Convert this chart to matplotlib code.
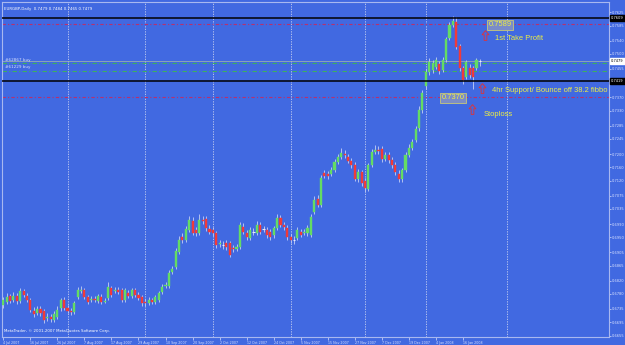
import matplotlib.pyplot as plt
import matplotlib.transforms as mtransforms
from matplotlib.path import Path

# EURGBP daily bars (4 Jul 2007 onwards)
opens = [
    0.6747, 0.6756, 0.6774, 0.6762, 0.6774, 0.6759, 0.6789, 0.6774, 0.6762, 0.6729,
    0.6723, 0.6735, 0.6729, 0.6708, 0.6711, 0.6702, 0.6711, 0.6738, 0.6762, 0.6738,
    0.6729, 0.6726, 0.6771, 0.6789, 0.6792, 0.6771, 0.6762, 0.6765, 0.6759, 0.6771,
    0.6756, 0.6768, 0.6798, 0.6789, 0.6792, 0.6792, 0.6762, 0.6783, 0.6774, 0.6792,
    0.6777, 0.6771, 0.6756, 0.6753, 0.6762, 0.6756, 0.6762, 0.6786, 0.6804, 0.6804,
    0.6846, 0.6861, 0.6906, 0.6951, 0.6942, 0.6972, 0.6999, 0.6972, 0.6963, 0.7002,
    0.7005, 0.6975, 0.6972, 0.6963, 0.6930, 0.6927, 0.6933, 0.6933, 0.6918, 0.6915,
    0.6921, 0.6981, 0.6963, 0.6948, 0.6966, 0.6963, 0.6987, 0.6975, 0.6972, 0.6966,
    0.6957, 0.6978, 0.7008, 0.6987, 0.6978, 0.6951, 0.6942, 0.6948, 0.6966, 0.6963,
    0.6963, 0.6957, 0.7026, 0.7065, 0.7047, 0.7143, 0.7140, 0.7140, 0.7152, 0.7176,
    0.7191, 0.7200, 0.7191, 0.7179, 0.7167, 0.7125, 0.7146, 0.7119, 0.7095, 0.7167,
    0.7206, 0.7212, 0.7215, 0.7185, 0.7197, 0.7182, 0.7167, 0.7140, 0.7125, 0.7152,
    0.7197, 0.7218, 0.7242, 0.7278, 0.7332, 0.7404, 0.7446, 0.7452, 0.7461, 0.7470,
    0.7452, 0.7482, 0.7548, 0.7587, 0.7596, 0.7524, 0.7458, 0.7431, 0.7458, 0.7458,
    0.7458, 0.7479]
highs = [
    0.6771, 0.6783, 0.6780, 0.6786, 0.6783, 0.6798, 0.6795, 0.6783, 0.6768, 0.6741,
    0.6744, 0.6744, 0.6735, 0.6723, 0.6720, 0.6729, 0.6744, 0.6768, 0.6771, 0.6747,
    0.6738, 0.6759, 0.6801, 0.6804, 0.6798, 0.6777, 0.6774, 0.6774, 0.6780, 0.6780,
    0.6768, 0.6816, 0.6804, 0.6801, 0.6801, 0.6798, 0.6798, 0.6792, 0.6798, 0.6798,
    0.6786, 0.6777, 0.6765, 0.6771, 0.6768, 0.6777, 0.6789, 0.6810, 0.6816, 0.6852,
    0.6864, 0.6918, 0.6954, 0.6963, 0.6984, 0.7014, 0.7011, 0.6981, 0.7020, 0.7014,
    0.7014, 0.6987, 0.6981, 0.6969, 0.6942, 0.6939, 0.6942, 0.6939, 0.6927, 0.6930,
    0.6996, 0.6993, 0.6972, 0.6981, 0.6978, 0.6999, 0.6996, 0.6984, 0.6981, 0.6975,
    0.6984, 0.7020, 0.7017, 0.6996, 0.6987, 0.6960, 0.6954, 0.6981, 0.6975, 0.6975,
    0.6987, 0.7020, 0.7074, 0.7077, 0.7137, 0.7152, 0.7149, 0.7161, 0.7185, 0.7200,
    0.7218, 0.7212, 0.7200, 0.7188, 0.7176, 0.7155, 0.7152, 0.7128, 0.7173, 0.7215,
    0.7227, 0.7224, 0.7224, 0.7206, 0.7206, 0.7191, 0.7176, 0.7152, 0.7158, 0.7206,
    0.7230, 0.7245, 0.7284, 0.7344, 0.7392, 0.7455, 0.7488, 0.7482, 0.7491, 0.7479,
    0.7491, 0.7551, 0.7596, 0.7614, 0.7611, 0.7530, 0.7464, 0.7482, 0.7470, 0.7464,
    0.7488, 0.7484]
lows = [
    0.6738, 0.6750, 0.6753, 0.6756, 0.6750, 0.6753, 0.6771, 0.6756, 0.6726, 0.6711,
    0.6717, 0.6714, 0.6693, 0.6699, 0.6696, 0.6696, 0.6705, 0.6729, 0.6732, 0.6723,
    0.6717, 0.6720, 0.6765, 0.6783, 0.6765, 0.6750, 0.6756, 0.6756, 0.6753, 0.6750,
    0.6753, 0.6762, 0.6771, 0.6783, 0.6780, 0.6756, 0.6756, 0.6768, 0.6768, 0.6771,
    0.6762, 0.6744, 0.6744, 0.6747, 0.6750, 0.6750, 0.6756, 0.6780, 0.6798, 0.6798,
    0.6840, 0.6855, 0.6900, 0.6933, 0.6936, 0.6966, 0.6957, 0.6954, 0.6957, 0.6990,
    0.6969, 0.6960, 0.6954, 0.6918, 0.6921, 0.6915, 0.6912, 0.6891, 0.6906, 0.6909,
    0.6915, 0.6960, 0.6942, 0.6942, 0.6957, 0.6957, 0.6960, 0.6966, 0.6948, 0.6942,
    0.6948, 0.6972, 0.6981, 0.6972, 0.6942, 0.6933, 0.6930, 0.6942, 0.6951, 0.6957,
    0.6954, 0.6951, 0.7020, 0.7041, 0.7041, 0.7128, 0.7125, 0.7134, 0.7146, 0.7170,
    0.7185, 0.7188, 0.7173, 0.7158, 0.7119, 0.7116, 0.7104, 0.7086, 0.7089, 0.7161,
    0.7200, 0.7200, 0.7176, 0.7179, 0.7173, 0.7158, 0.7137, 0.7116, 0.7116, 0.7146,
    0.7191, 0.7212, 0.7236, 0.7269, 0.7323, 0.7395, 0.7437, 0.7443, 0.7455, 0.7440,
    0.7446, 0.7476, 0.7542, 0.7581, 0.7515, 0.7449, 0.7410, 0.7425, 0.7428, 0.7395,
    0.7452, 0.7465]
closes = [
    0.6762, 0.6771, 0.6759, 0.6774, 0.6759, 0.6789, 0.6777, 0.6762, 0.6732, 0.6720,
    0.6735, 0.6723, 0.6702, 0.6711, 0.6705, 0.6720, 0.6732, 0.6762, 0.6738, 0.6729,
    0.6726, 0.6753, 0.6792, 0.6792, 0.6771, 0.6756, 0.6765, 0.6762, 0.6774, 0.6756,
    0.6759, 0.6801, 0.6777, 0.6792, 0.6786, 0.6762, 0.6792, 0.6774, 0.6792, 0.6777,
    0.6768, 0.6753, 0.6753, 0.6762, 0.6756, 0.6771, 0.6783, 0.6801, 0.6807, 0.6843,
    0.6855, 0.6909, 0.6942, 0.6942, 0.6975, 0.7002, 0.6963, 0.6963, 0.7002, 0.6999,
    0.6978, 0.6966, 0.6963, 0.6927, 0.6933, 0.6926, 0.6921, 0.6897, 0.6915, 0.6921,
    0.6987, 0.6966, 0.6951, 0.6972, 0.6965, 0.6987, 0.6966, 0.6974, 0.6957, 0.6951,
    0.6978, 0.7008, 0.6987, 0.6981, 0.6951, 0.6942, 0.6941, 0.6972, 0.6957, 0.6966,
    0.6978, 0.7011, 0.7062, 0.7047, 0.7128, 0.7134, 0.7134, 0.7152, 0.7176, 0.7191,
    0.7203, 0.7197, 0.7179, 0.7167, 0.7125, 0.7146, 0.7113, 0.7098, 0.7167, 0.7206,
    0.7212, 0.7209, 0.7185, 0.7197, 0.7182, 0.7167, 0.7146, 0.7125, 0.7152, 0.7197,
    0.7218, 0.7236, 0.7275, 0.7332, 0.7383, 0.7446, 0.7476, 0.7473, 0.7482, 0.7449,
    0.7482, 0.7545, 0.7587, 0.7599, 0.7521, 0.7458, 0.7422, 0.7476, 0.7437, 0.7431,
    0.7482, 0.7479]

date_labels = ["4 Jul 2007", "16 Jul 2007", "26 Jul 2007", "7 Aug 2007", "17 Aug 2007",
               "29 Aug 2007", "10 Sep 2007", "20 Sep 2007", "2 Oct 2007", "12 Oct 2007",
               "24 Oct 2007", "5 Nov 2007", "15 Nov 2007", "27 Nov 2007", "7 Dec 2007",
               "19 Dec 2007", "4 Jan 2008", "16 Jan 2008"]
date_bars = [0, 8, 16, 24, 32, 40, 48, 56, 64, 72, 80, 88, 96, 104, 112, 120, 128, 136]
month_bars = [19, 42, 62, 85, 107, 125, 149]

price_ticks = [0.7625, 0.7585, 0.7540, 0.7500, 0.7455, 0.7415, 0.7370, 0.7330, 0.7285,
               0.7245, 0.7200, 0.7160, 0.7120, 0.7075, 0.7035, 0.6990, 0.6950, 0.6905,
               0.6865, 0.6820, 0.6780, 0.6735, 0.6695, 0.6655]

# horizontal objects on the chart
black_lines = [0.7609, 0.7419]
take_profit = 0.7589
stop_loss = 0.7370
orders = [("#62867 buy", 0.7472), ("#61229 buy", 0.7450)]

# yellow notes: (text, bar position, price, boxed)
notes = [("0.7589", 143.6, 0.7587, True),
         ("1st Take Profit", 145.5, 0.7545, False),
         ("4hr Support/ Bounce off 38.2 fibbo", 144.6, 0.7389, False),
         ("0.7370", 129.6, 0.7368, True),
         ("Stoploss", 142.2, 0.7317, False)]
arrow_x = [142.5, 141.6, 138.7]
arrow_y = [0.7557, 0.7398, 0.7335]

BG = '#4169e1'
LIGHT = '#d8e0ff'
YELLOW = '#f0f040'

fig = plt.figure(figsize=(6.25, 3.45), dpi=100)
fig.patch.set_facecolor(BG)
ax = fig.add_axes([2 / 625, 8 / 345, 607 / 625, 335 / 345])
ax.set_facecolor(BG)

n = len(closes)
xs = list(range(n))

# month grid
for m in month_bars:
    ax.axvline(m, color='#c8d0f0', lw=0.6, ls=(0, (1.5, 1.5)), zorder=1)

# candles
ax.vlines(xs, lows, highs, color='#b4c2f2', lw=0.7, zorder=3)
up_x, up_b, up_h, dn_x, dn_b, dn_h, doji_x, doji_y = [], [], [], [], [], [], [], []
for i in xs:
    o, c = opens[i], closes[i]
    if abs(c - o) < 0.00015:
        doji_x.append(i)
        doji_y.append(c)
    elif c > o:
        up_x.append(i); up_b.append(o); up_h.append(c - o)
    else:
        dn_x.append(i); dn_b.append(c); dn_h.append(o - c)
ax.bar(up_x, up_h, bottom=up_b, width=0.62, color='#64dc64', edgecolor='#64dc64', lw=0.3, zorder=4)
ax.bar(dn_x, dn_h, bottom=dn_b, width=0.62, color='#f03a3a', edgecolor='#f03a3a', lw=0.3, zorder=4)
ax.hlines(doji_y, [x - 0.35 for x in doji_x], [x + 0.35 for x in doji_x], color='#e8ecff', lw=0.8, zorder=4)

# lines
for p in black_lines:
    ax.axhline(p, color='black', lw=1.1, zorder=5)
for p in (take_profit, stop_loss):
    ax.axhline(p, color='#b8306e', lw=0.8, ls=(0, (3, 2, 1, 2)), zorder=2)
for name, p in orders:
    ax.axhline(p, color='#3cb060', lw=0.8, ls=(0, (4, 2, 1, 2)), zorder=2)
    ax.text(0.5, p + 0.0004, name, fontsize=3.0, color=LIGHT, va='bottom', zorder=6)
ax.axhline(closes[-1], color='#a8bca8', lw=0.5, zorder=2)

# limits / axes
ax.set_xlim(-0.38, 179.2)
ax.set_ylim(0.6651, 0.7656)
ax.yaxis.tick_right()
ax.set_yticks(price_ticks)
ax.set_yticklabels([f"{p:.4f}" for p in price_ticks])
ax.set_xticks(date_bars)
ax.set_xticklabels(date_labels)
for lab in ax.get_xticklabels():
    lab.set_ha('left')
ax.tick_params(axis='y', colors=LIGHT, labelsize=2.6, length=1.5, width=0.5, pad=0.8)
ax.tick_params(axis='x', colors=LIGHT, labelsize=2.3, length=2, width=0.5, pad=0.8)
for s in ax.spines.values():
    s.set_color('#a8b8f0')
    s.set_linewidth(0.8)

# price-axis markers
trans = mtransforms.blended_transform_factory(ax.transAxes, ax.transData)
for p in black_lines:
    ax.text(1.003, p, f"{p:.4f}", transform=trans, fontsize=2.6, color='white', va='center',
            bbox=dict(boxstyle='square,pad=0.3', fc='black', ec='black'), zorder=7, clip_on=False)
ax.text(1.003, closes[-1], f"{closes[-1]:.4f}", transform=trans, fontsize=2.6, color='black',
        va='center', bbox=dict(boxstyle='square,pad=0.3', fc='white', ec='white'), zorder=7, clip_on=False)

# header and footer
ax.text(0.004, 0.985, f"EURGBP,Daily  {opens[-1]:.4f} {highs[-1]:.4f} {lows[-1]:.4f} {closes[-1]:.4f}",
        transform=ax.transAxes, fontsize=2.8, color='white', va='top')
ax.text(0.004, 0.012, "MetaTrader, \u00a9 2001-2007 MetaQuotes Software Corp.",
        transform=ax.transAxes, fontsize=2.8, color='white', va='bottom')

# yellow notes
box = dict(boxstyle='square,pad=0.2', fc='#7b8cc8', ec='#c8c878', lw=0.6)
for text, nx, ny, boxed in notes:
    ax.text(nx, ny, text, family='Liberation Sans', fontsize=5.4, color=YELLOW, va='center',
            bbox=box if boxed else None, zorder=8)

# red hollow up-arrows
arrow = Path([(0, 1), (0.7, 0.15), (0.28, 0.15), (0.28, -1), (-0.28, -1), (-0.28, 0.15),
              (-0.7, 0.15), (0, 1)], closed=True)
ax.plot(arrow_x, arrow_y, ls='none', marker=arrow, markersize=7, markerfacecolor='none',
        markeredgecolor='#e83030', markeredgewidth=0.6, zorder=8)

fig.savefig('out.png', dpi=100, facecolor=fig.get_facecolor())
